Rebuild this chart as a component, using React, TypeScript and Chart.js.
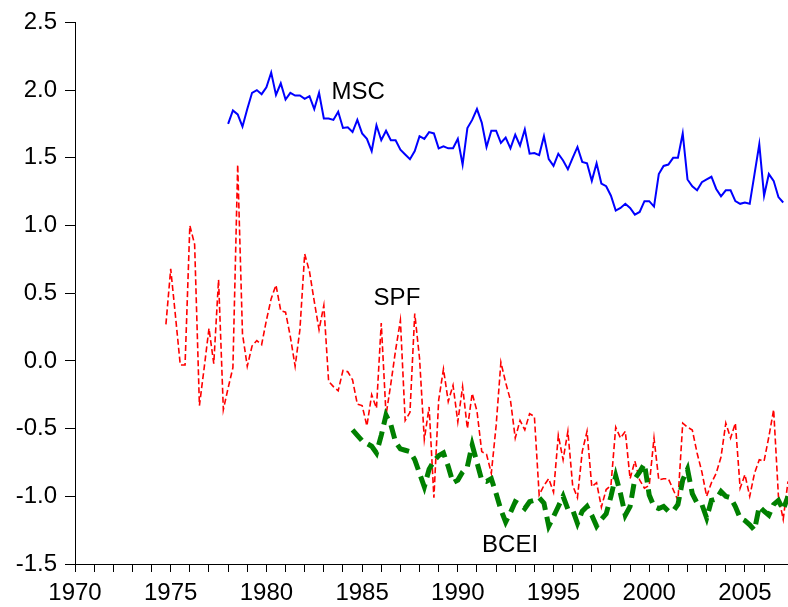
import React, { useEffect, useRef } from "react";
import { Chart, registerables } from "chart.js";

Chart.register(...registerables);

// Quarterly series (value per quarter, starting quarter given as decimal year)
const mscStart = 1978.0;
const mscValues = [
  1.75, 1.85, 1.82, 1.73, // 1978
  1.86, 1.98, 2.0, 1.97, // 1979
  2.02, 2.13, 1.965, 2.05, // 1980
  1.93, 1.98, 1.96, 1.96, // 1981
  1.935, 1.955, 1.86, 1.98, // 1982
  1.79, 1.79, 1.78, 1.84, // 1983
  1.72, 1.725, 1.69, 1.78, // 1984
  1.68, 1.64, 1.55, 1.74, // 1985
  1.63, 1.7, 1.63, 1.63, // 1986
  1.56, 1.525, 1.49, 1.55, // 1987
  1.66, 1.64, 1.69, 1.68, // 1988
  1.57, 1.585, 1.57, 1.57, // 1989
  1.64, 1.45, 1.72, 1.78, // 1990
  1.86, 1.76, 1.58, 1.7, // 1991
  1.7, 1.61, 1.65, 1.57, // 1992
  1.67, 1.59, 1.71, 1.53, // 1993
  1.535, 1.52, 1.66, 1.49, // 1994
  1.44, 1.53, 1.48, 1.415, // 1995
  1.5, 1.58, 1.47, 1.46, // 1996
  1.33, 1.46, 1.31, 1.29, // 1997
  1.22, 1.11, 1.13, 1.16, // 1998
  1.13, 1.08, 1.1, 1.18, // 1999
  1.18, 1.14, 1.38, 1.44, // 2000
  1.45, 1.5, 1.5, 1.68, // 2001
  1.34, 1.29, 1.26, 1.32, // 2002
  1.34, 1.36, 1.27, 1.215, // 2003
  1.26, 1.26, 1.18, 1.16, // 2004
  1.17, 1.16, 1.38, 1.6, // 2005
  1.22, 1.38, 1.33, 1.21, // 2006
  1.17, // 2007
];

const spfStart = 1974.75;
const spfValues = [
  0.27, // 1974 Q4
  0.68, 0.33, -0.03, -0.03, // 1975
  1.0, 0.86, -0.33, -0.05, // 1976
  0.24, -0.02, 0.6, -0.36, // 1977
  -0.2, -0.05, 1.45, 0.2, // 1978
  -0.04, 0.11, 0.15, 0.12, // 1979
  0.3, 0.46, 0.56, 0.37, // 1980
  0.36, 0.18, -0.04, 0.23, // 1981
  0.79, 0.66, 0.44, 0.23, // 1982
  0.41, -0.15, -0.19, -0.22, // 1983
  -0.07, -0.08, -0.14, -0.32, // 1984
  -0.33, -0.48, -0.25, -0.35, // 1985
  0.28, -0.4, -0.17, 0.08, // 1986
  0.3, -0.44, -0.38, 0.35, // 1987
  0.02, -0.58, -0.34, -1.01, // 1988
  -0.29, -0.06, -0.3, -0.18, // 1989
  -0.45, -0.19, -0.5, -0.24, // 1990
  -0.37, -0.67, -0.69, -0.83, // 1991
  -0.48, -0.01, -0.16, -0.29, // 1992
  -0.57, -0.44, -0.51, -0.39, // 1993
  -0.41, -0.99, -0.92, -0.87, // 1994
  -0.97, -0.55, -0.73, -0.52, // 1995
  -0.92, -1.01, -0.67, -0.52, // 1996
  -0.93, -0.9, -1.08, -0.95, // 1997
  -0.92, -0.49, -0.57, -0.52, // 1998
  -0.87, -0.74, -0.88, -0.94, // 1999
  -0.92, -0.57, -0.88, -0.87, // 2000
  -0.87, -0.95, -1.03, -0.46, // 2001
  -0.49, -0.51, -0.68, -0.82, // 2002
  -1.0, -0.9, -0.83, -0.71, // 2003
  -0.46, -0.57, -0.46, -0.94, // 2004
  -0.84, -1.0, -0.83, -0.73, // 2005
  -0.74, -0.56, -0.36, -1.0, // 2006
  -1.17, -0.89, // 2007
];

const bceiStart = 1984.5;
const bceiValues = [
  -0.51, -0.55, // 1984 Q3-Q4
  -0.59, -0.61, -0.63, -0.68, // 1985
  -0.55, -0.4, -0.47, -0.6, // 1986
  -0.65, -0.66, -0.67, -0.73, // 1987
  -0.83, -0.93, -0.8, -0.74, // 1988
  -0.7, -0.68, -0.78, -0.9, // 1989
  -0.88, -0.82, -0.78, -0.62, // 1990
  -0.75, -0.88, -0.89, -0.87, // 1991
  -0.98, -1.1, -1.19, -1.12, // 1992
  -1.04, -1.06, -1.09, -1.04, // 1993
  -1.03, -1.01, -1.05, -1.22, // 1994
  -1.15, -1.075, -1.0, -1.095, // 1995
  -1.1, -1.2, -1.11, -1.075, // 1996
  -1.14, -1.22, -1.17, -1.13, // 1997
  -1.0, -0.85, -0.98, -1.14, // 1998
  -1.075, -0.87, -0.82, -0.76, // 1999
  -0.99, -1.075, -1.09, -1.075, // 2000
  -1.11, -1.11, -1.06, -0.88, // 2001
  -0.8, -0.98, -1.05, -1.06, // 2002
  -1.16, -1.03, -1.02, -0.965, // 2003
  -1.0, -1.01, -1.075, -1.16, // 2004
  -1.18, -1.21, -1.25, -1.075, // 2005
  -1.11, -1.14, -1.06, -1.03, // 2006
  -1.1, -1.0, // 2007
];

const xMin = 1970;
const xMax = 2007.25;
const yMin = -1.5;
const yMax = 2.5;
const yStep = 0.5;
const xLabelEvery = 5;

const seriesLabels = [
  { text: "MSC", x: 1984.8, y: 1.98 },
  { text: "SPF", x: 1986.82, y: 0.465 },
  { text: "BCEI", x: 1992.73, y: -1.36 },
];

const FONT = '"Liberation Sans", Arial, sans-serif';

function toPoints(start: number, values: number[]) {
  return values.map((v, i) => ({ x: start + i * 0.25, y: v }));
}

const labelPlugin = {
  id: "seriesLabels",
  afterDatasetsDraw(chart: any) {
    const { ctx, scales } = chart;
    ctx.save();
    ctx.font = `24px ${FONT}`;
    ctx.fillStyle = "#000";
    ctx.textAlign = "center";
    ctx.textBaseline = "middle";
    for (const l of seriesLabels) {
      ctx.fillText(l.text, scales.x.getPixelForValue(l.x), scales.y.getPixelForValue(l.y));
    }
    ctx.restore();
  },
};

export default function App() {
  const ref = useRef<HTMLCanvasElement>(null);
  useEffect(() => {
    const canvas = ref.current!;
    const chart = new Chart(canvas, {
      type: "line",
      data: {
        datasets: [
          {
            label: "BCEI",
            data: toPoints(bceiStart, bceiValues),
            borderColor: "#008000",
            borderWidth: 5,
            borderDash: [14, 7],
            borderCapStyle: "butt",
            pointRadius: 0,
            tension: 0,
          },
          {
            label: "SPF",
            data: toPoints(spfStart, spfValues),
            borderColor: "#FF0000",
            borderWidth: 1.6,
            borderDash: [6, 3],
            pointRadius: 0,
            tension: 0,
          },
          {
            label: "MSC",
            data: toPoints(mscStart, mscValues),
            borderColor: "#0000FF",
            borderWidth: 2,
            pointRadius: 0,
            tension: 0,
          },
        ],
      },
      options: {
        animation: false,
        responsive: false,
        devicePixelRatio: 1,
        layout: { padding: { top: 22, right: 0, left: 0, bottom: 0 } },
        plugins: { legend: { display: false }, tooltip: { enabled: false } },
        scales: {
          x: {
            type: "linear",
            min: xMin,
            max: xMax,
            afterBuildTicks: (s: any) => {
              s.ticks = s.ticks.filter((t: any) => Number.isInteger(t.value));
            },
            afterFit: (s: any) => {
              s.height = 43;
            },
            ticks: {
              stepSize: 1,
              autoSkip: false,
              maxRotation: 0,
              color: "#000",
              padding: 7,
              font: { family: FONT, size: 24 },
              callback: (v: any) => (Number(v) % xLabelEvery === 0 ? String(v) : ""),
            },
            grid: { drawOnChartArea: false, drawTicks: true, tickLength: 8, color: "#000", tickColor: "#000" },
            border: { display: true, color: "#000", width: 1 },
          },
          y: {
            type: "linear",
            min: yMin,
            max: yMax,
            afterFit: (s: any) => {
              s.width = 75;
            },
            ticks: {
              stepSize: yStep,
              color: "#000",
              padding: 8,
              font: { family: FONT, size: 24 },
              callback: (v: any) => Number(v).toFixed(1),
            },
            grid: { drawOnChartArea: false, drawTicks: true, tickLength: 10, color: "#000", tickColor: "#000" },
            border: { display: true, color: "#000", width: 1 },
          },
        },
      },
      plugins: [labelPlugin],
    } as any);
    return () => chart.destroy();
  }, []);
  return (
    <div style={{ position: "fixed", left: 0, top: 0, width: 788, height: 607, background: "#fff" }}>
      <canvas ref={ref} width={788} height={607} style={{ display: "block", width: 788, height: 607 }} />
    </div>
  );
}
